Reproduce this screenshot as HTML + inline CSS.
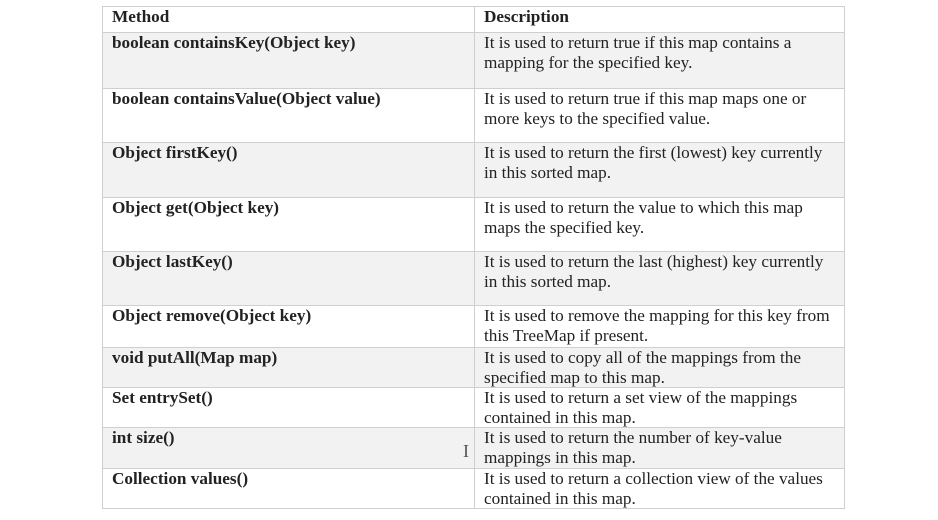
<!DOCTYPE html>
<html><head><meta charset="utf-8"><style>
html,body{margin:0;padding:0;background:#fff;width:938px;height:520px;overflow:hidden}
table{position:absolute;left:102px;top:6px;border-collapse:collapse;width:743px;font-family:"Liberation Serif",serif;font-size:17.2px;color:#222;line-height:19.5px}
td{border:1px solid #cfcfcf;vertical-align:top;padding:0 0 0 9px;box-sizing:border-box}
td.a{width:372px;font-weight:bold}
tr.g td{background:#f2f2f2}
</style></head><body>
<table>
<tr style="height:26px"><td class="a">Method</td><td style="font-weight:bold">Description</td></tr>
<tr class="g" style="height:56px"><td class="a">boolean containsKey(Object key)</td><td>It is used to return true if this map contains a<br>mapping for the specified key.</td></tr>
<tr style="height:54px"><td class="a">boolean containsValue(Object value)</td><td>It is used to return true if this map maps one or<br>more keys to the specified value.</td></tr>
<tr class="g" style="height:55px"><td class="a">Object firstKey()</td><td>It is used to return the first (lowest) key currently<br>in this sorted map.</td></tr>
<tr style="height:54px"><td class="a">Object get(Object key)</td><td>It is used to return the value to which this map<br>maps the specified key.</td></tr>
<tr class="g" style="height:54px"><td class="a">Object lastKey()</td><td>It is used to return the last (highest) key currently<br>in this sorted map.</td></tr>
<tr style="height:42px"><td class="a">Object remove(Object key)</td><td>It is used to remove the mapping for this key from<br>this TreeMap if present.</td></tr>
<tr class="g" style="height:40px"><td class="a">void putAll(Map map)</td><td>It is used to copy all of the mappings from the<br>specified map to this map.</td></tr>
<tr style="height:40px"><td class="a">Set entrySet()</td><td>It is used to return a set view of the mappings<br>contained in this map.</td></tr>
<tr class="g" style="height:41px"><td class="a">int size()</td><td>It is used to return the number of key-value<br>mappings in this map.</td></tr>
<tr style="height:40px"><td class="a">Collection values()</td><td>It is used to return a collection view of the values<br>contained in this map.</td></tr>
</table>
<div style="position:absolute;left:463px;top:441px;font-family:'Liberation Serif',serif;font-size:18px;color:#555">I</div>
</body></html>
